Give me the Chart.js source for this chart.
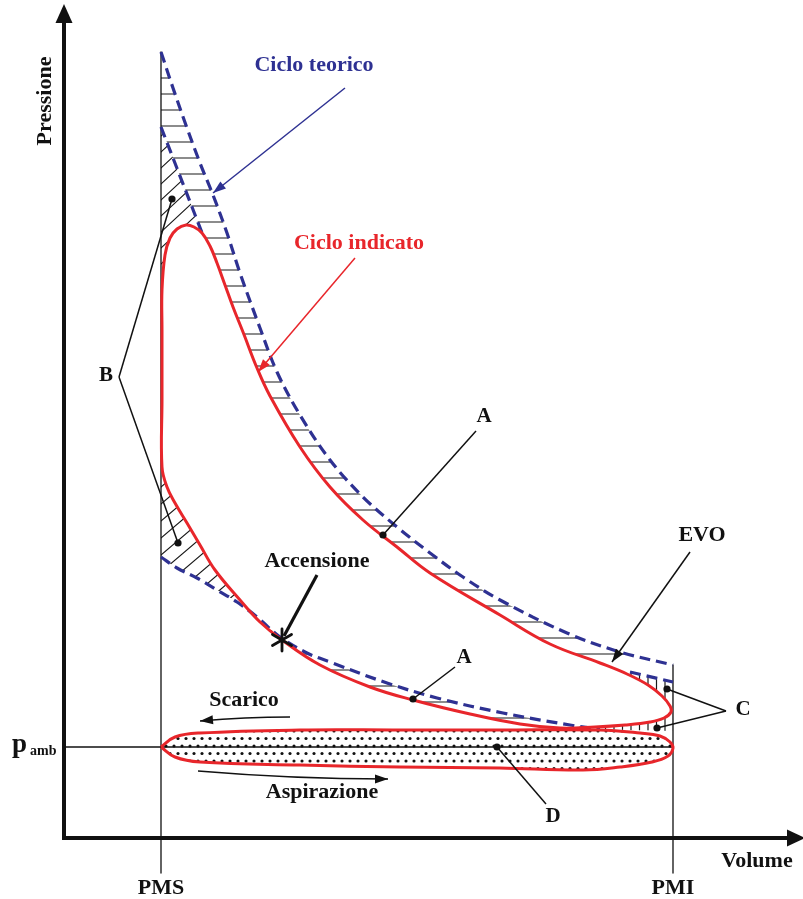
<!DOCTYPE html>
<html lang="it">
<head>
<meta charset="UTF-8">
<title>Ciclo Otto - diagramma p-V</title>
<script src="https://cdn.jsdelivr.net/npm/chart.js"></script>
<style>
  html, body { margin: 0; padding: 0; background: #fff; }
  canvas { display: block; }
</style>
</head>
<body>
<canvas id="pv" width="803" height="899"></canvas>
<script>
// volume (V) and pressure (P) in arbitrary units, origin at the axes corner

// theoretical cycle: expansion and compression curves
const teoEspV = [97, 109, 123, 136, 149, 163, 176, 196, 213, 236, 266, 299, 333, 366, 399, 436, 503, 556, 609];
const teoEspP = [786, 750, 710, 675, 643, 605, 565, 510, 466, 423, 378, 341, 311, 285, 261, 238, 205, 186, 173];
const teoCompV = [97, 113, 133, 153, 173, 193, 216, 243, 266, 323, 373, 439, 506, 536, 609];
const teoCompP = [281, 270, 260, 248, 236, 221, 201, 185, 176, 155, 140, 125, 113, 109, 107];

// finite-time combustion line and early exhaust opening line
const combV = [97, 140];
const combP = [711, 600];
const evoV = [566, 609];
const evoP = [166, 156];

// indicated cycle (closed loop)
const indV = [98, 98, 98, 101, 106, 113, 122, 130, 138, 146, 153, 161, 169, 179, 193, 206, 236, 266, 299, 333,
              366, 436, 486, 536, 563, 584, 598, 606, 607, 600, 586, 561, 531, 496, 456, 406, 349, 306, 256, 218,
              196, 176, 151, 136, 123, 111, 103, 98, 98];
const indP = [438, 508, 548, 583, 600, 609, 613, 611, 605, 592, 575, 553, 531, 506, 470, 442, 391, 351, 318, 291,
              265, 223, 194, 175, 164, 153, 142, 132, 126, 120, 116, 113, 111, 110, 114, 124, 138, 151, 173, 198,
              216, 238, 268, 293, 315, 335, 351, 371, 438];

// pumping loop (exhaust + intake)
const pompV = [97, 111, 136, 236, 336, 436, 536, 576, 596, 606, 609, 604, 588, 556, 519, 436, 336, 236, 136, 111, 97];
const pompP = [91, 101, 105, 108, 108, 108, 108, 105, 102, 96, 90, 82, 76, 71, 68, 70, 71, 73, 76, 81, 91];

// reference lines: top dead centre, bottom dead centre, ambient pressure
const pmsV = [97, 97];
const pmsP = [786, -35];
const pmiV = [609, 609];
const pmiP = [173, -35];
const pambV = [0, 609];
const pambP = [91, 91];

const ROSSO = '#e8262b';
const BLU = '#2e3192';
const NERO = '#111';
const FONT = '"Liberation Serif", "Times New Roman", serif';

// hatch zones (same units)
const zonaDiagAlta = [[90, 729], [140, 600], [90, 530]];
const zonaDiagBassa = [[86, 383], [136, 383], [221, 188], [86, 178]];
const zonaVert = [[556, 180], [626, 180], [626, 93], [496, 93], [496, 116]];
const zonaVertC = [[496, 116], [566, 166], [609, 156], [626, 156], [626, 93], [496, 93]];

const etichette = [
  { t: 'Ciclo teorico', v: 250, p: 773, c: BLU },
  { t: 'Ciclo indicato', v: 295, p: 595, c: ROSSO },
  { t: 'Accensione', v: 253, p: 277 },
  { t: 'A', v: 420, p: 421 },
  { t: 'A', v: 400, p: 180 },
  { t: 'B', v: 42, p: 462 },
  { t: 'C', v: 679, p: 128 },
  { t: 'D', v: 489, p: 21 },
  { t: 'EVO', v: 638, p: 303 },
  { t: 'Scarico', v: 180, p: 138 },
  { t: 'Aspirazione', v: 258, p: 46 },
  { t: 'Volume', v: 693, p: -23 },
  { t: 'PMS', v: 97, p: -50 },
  { t: 'PMI', v: 609, p: -50 }
];

const richiami = [
  { da: [412, 407], a: [319, 303] },
  { da: [391, 171], a: [349, 139] },
  { da: [55, 461], a: [108, 639] },
  { da: [55, 461], a: [114, 295] },
  { da: [662, 127], a: [603, 149] },
  { da: [662, 127], a: [593, 110] },
  { da: [482, 34], a: [433, 91] }
];

const frecce = [
  { da: [281, 750], a: [149, 645], c: BLU },
  { da: [291, 580], a: [194, 466], c: ROSSO },
  { da: [626, 286], a: [548, 176], c: NERO }
];

function serie(V, P, stile) {
  return Object.assign({
    data: V.map((v, i) => ({ x: v, y: P[i] })),
    pointRadius: 0,
    pointHoverRadius: 0,
    fill: false,
    clip: false,
    tension: 0,
    borderJoinStyle: 'round'
  }, stile);
}

const tratteggio = { borderColor: BLU, borderWidth: 3.2, borderDash: [11, 6], order: 1 };

const datasets = [
  serie(indV, indP, { borderColor: ROSSO, borderWidth: 3, tension: 0.4, order: 0 }),
  serie(pompV, pompP, { borderColor: ROSSO, borderWidth: 3, tension: 0.4, order: 0 }),
  serie(teoEspV, teoEspP, Object.assign({ tension: 0.35 }, tratteggio)),
  serie(teoCompV, teoCompP, Object.assign({
    tension: 0.35,
    segment: { borderColor: c => (c.p0.parsed.x >= 536 ? 'rgba(0,0,0,0)' : undefined) }
  }, tratteggio)),
  serie(combV, combP, tratteggio),
  serie(evoV, evoP, tratteggio),
  serie(pmsV, pmsP, { borderColor: NERO, borderWidth: 1.3, order: 2 }),
  serie(pmiV, pmiP, { borderColor: NERO, borderWidth: 1.3, order: 2 }),
  serie(pambV, pambP, { borderColor: NERO, borderWidth: 1.3, order: 2 })
];

// follow a dataset's drawn curve (with its bezier control points), forward or backward
function traccia(ctx, chart, idx, inverso, muovi) {
  const linea = chart.getDatasetMeta(idx).dataset;
  if (linea.updateControlPoints) linea.updateControlPoints(chart.chartArea, 'x');
  const pts = inverso ? linea.points.slice().reverse() : linea.points;
  if (muovi) ctx.moveTo(pts[0].x, pts[0].y); else ctx.lineTo(pts[0].x, pts[0].y);
  for (let i = 1; i < pts.length; i++) {
    const a = pts[i - 1], b = pts[i];
    const c1x = inverso ? a.cp1x : a.cp2x, c1y = inverso ? a.cp1y : a.cp2y;
    const c2x = inverso ? b.cp2x : b.cp1x, c2y = inverso ? b.cp2y : b.cp1y;
    if (c1x === undefined || c2x === undefined) ctx.lineTo(b.x, b.y);
    else ctx.bezierCurveTo(c1x, c1y, c2x, c2y, b.x, b.y);
  }
}

function poligono(ctx, X, Y, pts) {
  pts.forEach(([v, p], i) => (i ? ctx.lineTo(X(v), Y(p)) : ctx.moveTo(X(v), Y(p))));
  ctx.closePath();
}

// area between the theoretical and the indicated cycle
function clipPerdite(ctx, chart) {
  ctx.beginPath();
  traccia(ctx, chart, 2, false, true);
  traccia(ctx, chart, 3, true, false);
  ctx.closePath();
  traccia(ctx, chart, 0, false, true);
  ctx.closePath();
  ctx.clip('evenodd');
}

function motivoPunti() {
  const c = document.createElement('canvas');
  c.width = 8; c.height = 15;
  const g = c.getContext('2d');
  g.fillStyle = '#111';
  [[2, 3.5], [6, 11]].forEach(([x, y]) => { g.beginPath(); g.arc(x, y, 1.55, 0, Math.PI * 2); g.fill(); });
  return c;
}

function punta(ctx, x0, y0, x1, y1, len, mezza) {
  const a = Math.atan2(y1 - y0, x1 - x0);
  ctx.beginPath();
  ctx.moveTo(x1, y1);
  ctx.lineTo(x1 - len * Math.cos(a) + mezza * Math.sin(a), y1 - len * Math.sin(a) - mezza * Math.cos(a));
  ctx.lineTo(x1 - len * Math.cos(a) - mezza * Math.sin(a), y1 - len * Math.sin(a) + mezza * Math.cos(a));
  ctx.closePath();
  ctx.fill();
}

const sfondo = {
  id: 'sfondo',
  beforeDatasetsDraw(chart) {
    const ctx = chart.ctx;
    const X = v => chart.scales.x.getPixelForValue(v);
    const Y = p => chart.scales.y.getPixelForValue(p);
    ctx.save();
    ctx.strokeStyle = '#1a1a1a';
    ctx.lineWidth = 1.2;

    // horizontal hatch
    ctx.save();
    clipPerdite(ctx, chart);
    ctx.beginPath();
    ctx.rect(0, 0, chart.width, chart.height);
    poligono(ctx, X, Y, zonaDiagAlta);
    poligono(ctx, X, Y, zonaDiagBassa);
    poligono(ctx, X, Y, zonaVert);
    ctx.clip('evenodd');
    ctx.beginPath();
    for (let y = 78; y <= 740; y += 16) { ctx.moveTo(140, y); ctx.lineTo(700, y); }
    ctx.stroke();
    ctx.restore();

    // slanted hatch near top dead centre
    ctx.save();
    clipPerdite(ctx, chart);
    ctx.beginPath(); poligono(ctx, X, Y, zonaDiagAlta); ctx.clip();
    ctx.beginPath();
    for (let c = 120; c <= 340; c += 16) { ctx.moveTo(140, c + 0.93 * 21); ctx.lineTo(260, c - 0.93 * 99); }
    ctx.stroke();
    ctx.restore();

    ctx.save();
    clipPerdite(ctx, chart);
    ctx.beginPath(); poligono(ctx, X, Y, zonaDiagBassa); ctx.clip();
    ctx.beginPath();
    for (let c = 470; c <= 760; c += 17) { ctx.moveTo(140, c + 0.85 * 21); ctx.lineTo(320, c - 0.85 * 159); }
    ctx.stroke();
    ctx.restore();

    // vertical hatch near bottom dead centre
    ctx.save();
    clipPerdite(ctx, chart);
    ctx.beginPath(); poligono(ctx, X, Y, zonaVertC); ctx.clip();
    ctx.beginPath();
    for (let x = 580; x <= 676; x += 8.5) { ctx.moveTo(x, 640); ctx.lineTo(x, 745); }
    ctx.stroke();
    ctx.restore();

    // dotted pumping loop
    ctx.save();
    ctx.beginPath();
    traccia(ctx, chart, 1, false, true);
    ctx.closePath();
    ctx.clip();
    ctx.fillStyle = ctx.createPattern(motivoPunti(), 'repeat');
    ctx.fillRect(0, 0, chart.width, chart.height);
    ctx.restore();

    ctx.restore();
  },

  afterDatasetsDraw(chart) {
    const ctx = chart.ctx;
    const X = v => chart.scales.x.getPixelForValue(v);
    const Y = p => chart.scales.y.getPixelForValue(p);
    ctx.save();

    // axes with arrows
    ctx.strokeStyle = NERO; ctx.fillStyle = NERO; ctx.lineWidth = 4;
    ctx.beginPath();
    ctx.moveTo(X(0), Y(832) + 16); ctx.lineTo(X(0), Y(0) + 2);
    ctx.moveTo(X(0) - 2, Y(0)); ctx.lineTo(X(741) - 16, Y(0));
    ctx.stroke();
    punta(ctx, X(0), Y(0), X(0), Y(834), 19, 8.5);
    punta(ctx, X(0), Y(0), X(741), Y(0), 18, 8.5);

    // leaders with dots
    ctx.lineWidth = 1.5;
    richiami.forEach(r => {
      ctx.beginPath();
      ctx.moveTo(X(r.da[0]), Y(r.da[1]));
      ctx.lineTo(X(r.a[0]), Y(r.a[1]));
      ctx.stroke();
      ctx.beginPath();
      ctx.arc(X(r.a[0]), Y(r.a[1]), 3.6, 0, Math.PI * 2);
      ctx.fill();
    });

    // pointing arrows
    frecce.forEach(f => {
      ctx.strokeStyle = f.c; ctx.fillStyle = f.c;
      ctx.beginPath();
      ctx.moveTo(X(f.da[0]), Y(f.da[1]));
      ctx.lineTo(X(f.a[0]), Y(f.a[1]));
      ctx.stroke();
      punta(ctx, X(f.da[0]), Y(f.da[1]), X(f.a[0]), Y(f.a[1]), 13, 4.5);
    });

    // exhaust and intake strokes
    ctx.strokeStyle = NERO; ctx.fillStyle = NERO; ctx.lineWidth = 1.6;
    [[[226, 121], [181, 121], [136, 117]], [[134, 67], [229, 59], [324, 59]]].forEach(([a, c, b]) => {
      ctx.beginPath();
      ctx.moveTo(X(a[0]), Y(a[1]));
      ctx.quadraticCurveTo(X(c[0]), Y(c[1]), X(b[0]), Y(b[1]));
      ctx.stroke();
      punta(ctx, X(c[0]), Y(c[1]), X(b[0]), Y(b[1]), 13, 4.5);
    });

    // ignition: leader and star on the indicated curve
    const sx = X(218), sy = Y(198);
    ctx.lineWidth = 3.2;
    ctx.beginPath();
    ctx.moveTo(X(253), Y(263)); ctx.lineTo(sx + 2, sy - 4);
    ctx.stroke();
    ctx.lineWidth = 2.8; ctx.lineCap = 'round';
    ctx.beginPath();
    for (let k = 0; k < 3; k++) {
      const a = Math.PI / 2 + k * Math.PI / 3;
      ctx.moveTo(sx - 11 * Math.cos(a), sy - 11 * Math.sin(a));
      ctx.lineTo(sx + 11 * Math.cos(a), sy + 11 * Math.sin(a));
    }
    ctx.stroke();
    ctx.lineCap = 'butt';

    // texts
    ctx.textAlign = 'center';
    ctx.textBaseline = 'middle';
    etichette.forEach(e => {
      ctx.fillStyle = e.c || NERO;
      ctx.font = 'bold ' + (e.t.length === 1 ? 21 : 22) + 'px ' + FONT;
      ctx.fillText(e.t, X(e.v), Y(e.p));
    });

    ctx.fillStyle = NERO;
    ctx.save();
    ctx.translate(X(-19), Y(737));
    ctx.rotate(-Math.PI / 2);
    ctx.font = 'bold 22px ' + FONT;
    ctx.fillText('Pressione', 0, 0);
    ctx.restore();

    ctx.textAlign = 'left';
    ctx.textBaseline = 'alphabetic';
    ctx.font = 'bold 27px ' + FONT;
    ctx.fillText('p', X(-52), Y(86));
    ctx.font = 'bold 14px ' + FONT;
    ctx.fillText('amb', X(-34), Y(83));

    ctx.restore();
  }
};

new Chart(document.getElementById('pv'), {
  type: 'line',
  data: { datasets },
  options: {
    responsive: false,
    animation: false,
    devicePixelRatio: 1,
    events: [],
    layout: { autoPadding: false, padding: { left: 64, right: 0, top: 5, bottom: 61 } },
    scales: {
      x: { type: 'linear', min: 0, max: 739, display: false },
      y: { type: 'linear', min: 0, max: 833, display: false }
    },
    plugins: { legend: { display: false }, tooltip: { enabled: false } }
  },
  plugins: [sfondo]
});
</script>
</body>
</html>
